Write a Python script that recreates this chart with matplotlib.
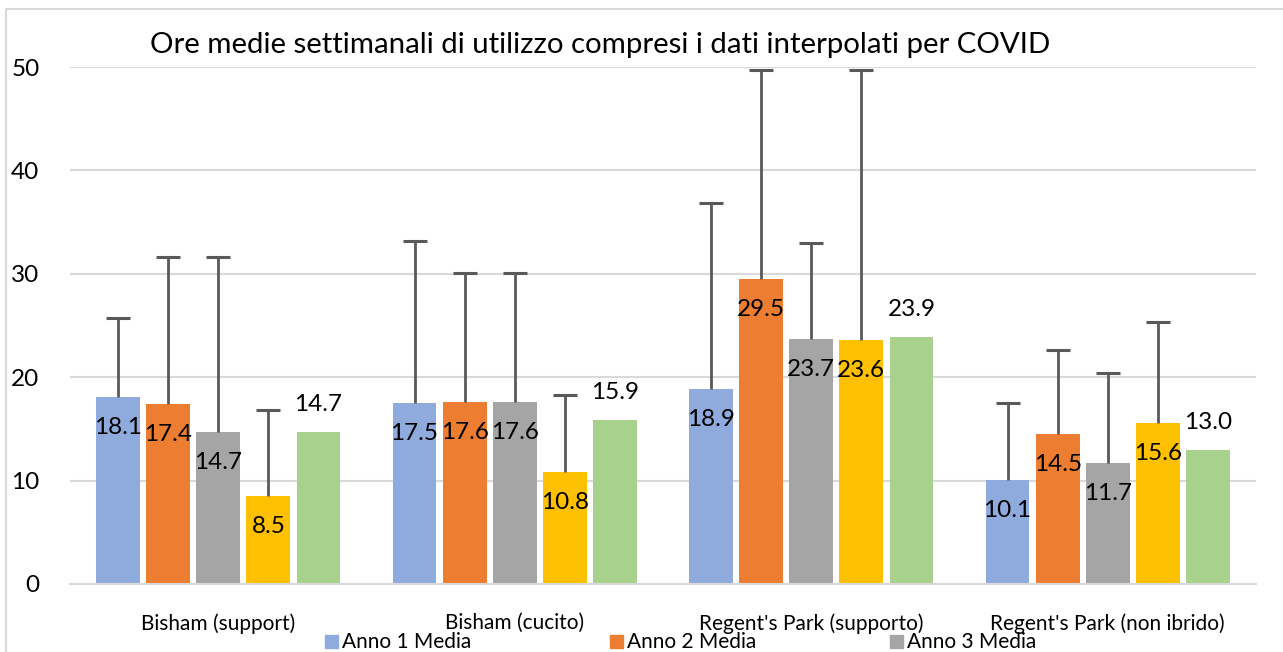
# Weekly average usage hours per site, Excel-style clustered bars with
# upper error bars and data labels.

import numpy as np
import matplotlib.pyplot as plt
from matplotlib.patches import Rectangle

plt.rcParams["font.family"] = ["Lato", "DejaVu Sans"]

categories = ["Bisham (support)", "Bisham (cucito)",
              "Regent's Park (supporto)", "Regent's Park (non ibrido)"]
series_names = ["Anno 1 Media", "Anno 2 Media", "Anno 3 Media",
                "Serie 4", "Serie 5"]
colors = ["#8faadc", "#ed7d31", "#a5a5a5", "#ffc000", "#a9d18e"]

anno1 = [18.1, 17.5, 18.9, 10.1]
anno2 = [17.4, 17.6, 29.5, 14.5]
anno3 = [14.7, 17.6, 23.7, 11.7]
serie4 = [8.5, 10.8, 23.6, 15.6]
serie5 = [14.7, 15.9, 23.9, 13.0]

# top of the upper error bar (None = no error bar)
err_top1 = [25.7, 33.2, 36.8, 17.5]
err_top2 = [31.6, 30.1, 49.7, 22.6]
err_top3 = [31.6, 30.1, 33.0, 20.4]
err_top4 = [16.8, 18.3, 49.7, 25.3]
err_top5 = [None, None, None, None]

values = [anno1, anno2, anno3, serie4, serie5]
err_tops = [err_top1, err_top2, err_top3, err_top4, err_top5]
label_inside = [True, True, True, True, False]

W, H = 1283, 652
fig = plt.figure(figsize=(W / 100, H / 100), dpi=100)
ax = fig.add_axes([70 / W, 1 - 584 / H, (1256 - 70) / W, (584 - 67) / H])

x = np.arange(len(categories))
step = 0.169
width = 0.148

for i, (vals, tops) in enumerate(zip(values, err_tops)):
    pos = x + (i - 2) * step
    ax.bar(pos, vals, width, color=colors[i], zorder=2, label=series_names[i])
    for p, v, t in zip(pos, vals, tops):
        if t is not None:
            # plus-only error bar: stem from the bar top, cap at the end
            ax.vlines(p, v, t, color="#595959", linewidth=2, zorder=3)
            ax.plot(p, t, marker="_", markersize=17, markeredgewidth=2.2,
                    color="#595959", zorder=3)
    for p, v in zip(pos, vals):
        off = -22 if label_inside[i] else 19.5
        ax.annotate(f"{v:.1f}", (p, v), xytext=(0, off), textcoords="offset points",
                    ha="center", va="center", fontsize=17.5, color="black", zorder=5)

ax.set_xlim(-0.5, 3.5)
ax.set_ylim(0, 50)
ax.set_yticks(range(0, 51, 10))
ax.yaxis.grid(True, color="#d9d9d9", linewidth=1.5, zorder=0)
ax.set_axisbelow(True)
for s in ["top", "right", "left"]:
    ax.spines[s].set_visible(False)
ax.spines["bottom"].set_color("#d9d9d9")
ax.spines["bottom"].set_linewidth(1.5)
ax.tick_params(axis="both", length=0)
ax.tick_params(axis="y", labelsize=17.5, pad=22)
ax.set_xticks(x)
ax.set_xticklabels(categories, fontsize=15)
ax.tick_params(axis="x", pad=21)

fig.text(600 / W, 1 - 45 / H, "Ore medie settimanali di utilizzo compresi i dati interpolati per COVID",
         ha="center", va="center", fontsize=21.2)

# legend row (only the first line is visible in the crop)
leg_x = [325, 610, 890]
for i, lx in enumerate(leg_x):
    fig.add_artist(Rectangle((lx / W, 1 - 648 / H), 13 / W, 13 / H,
                             transform=fig.transFigure, color=colors[i]))
    fig.text((lx + 17) / W, 1 - 642 / H, series_names[i], ha="left", va="center", fontsize=15)

# chart frame
fig.add_artist(Rectangle((6 / W, -0.1), 1.2, 1 - 9 / H + 0.1, transform=fig.transFigure,
                         fill=False, edgecolor="#d9d9d9", linewidth=1.5))

fig.savefig("out.png", dpi=100)
